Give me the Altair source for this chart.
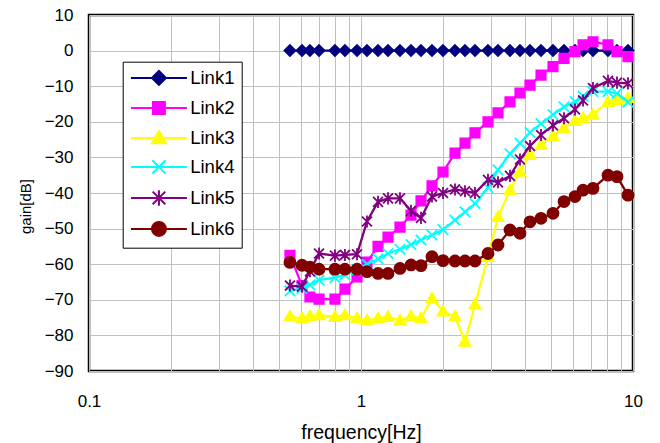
import altair as alt
import pandas as pd

# ---------------- data ----------------
freq = [0.548, 0.607, 0.649, 0.701, 0.802, 0.873, 0.967, 1.052, 1.155, 1.257,
        1.391, 1.527, 1.662, 1.824, 2.002, 2.216, 2.412, 2.625, 2.930, 3.189,
        3.530, 3.842, 4.181, 4.590, 5.080, 5.577, 6.121, 6.551, 7.127, 8.093,
        8.733, 9.585]

series_names = ["Link1", "Link2", "Link3", "Link4", "Link5", "Link6"]

link1 = [0, 0, 0, 0, 0, 0, 0, 0, 0, 0, 0, 0, 0, 0, 0, 0,
         0, 0, 0, 0, 0, 0, 0, 0, 0, 0, 0, 0, 0, 0, 0, 0]
link2 = [-57.5, -66, -69.2, -69.8, -69.8, -67, -63.6, -59.4, -55, -52.4,
         -49.6, -46.2, -42.2, -38, -34.1, -28.8, -26, -23.1, -20, -17.5,
         -14.4, -11.9, -9.7, -6.9, -4.5, -2.2, -0.3, 1.6, 2.5, 1.6, -0.3, -1.7]
link3 = [-74.7, -75.2, -74.6, -74.3, -74.8, -74.3, -75.2, -75.8, -75.2, -74.8,
         -75.8, -74.6, -75.2, -69.6, -73.3, -74.7, -81.8, -71.3, -58, -46.7,
         -39.2, -34, -29.3, -26.5, -24, -21.7, -19.8, -18.9, -18, -14.4, -13.9, -13.3]
link4 = [-67.5, -66.8, -65.8, -64.5, -63.8, -63, -61.5, -60, -58.5, -57,
         -55.8, -54.5, -53.2, -51.8, -50.3, -47.6, -45.3, -43, -38.5, -33.5,
         -29, -26, -23, -20.5, -18, -15.8, -14.3, -12.8, -11.5, -11.5, -12, -14.5]
link5 = [-66, -66.3, -62, -57, -57.6, -57.4, -57.2, -48, -42.5, -41.5,
         -41.5, -45, -47, -41, -40, -39, -39.5, -40, -36.3, -37,
         -35.2, -30.6, -26.8, -23.7, -21, -19, -16.5, -14, -10.5, -8.5, -9, -9.2]
link6 = [-59.5, -60.3, -60.8, -61.4, -61.4, -61.4, -61.4, -62.1, -62.6, -62.6,
         -61.2, -60.2, -60.4, -57.9, -59, -59.1, -59.1, -59.1, -57, -54.6,
         -50.4, -51.3, -48.1, -47.1, -45.7, -42.4, -41, -39.2, -38.7, -35, -35.4, -40.6]

x_ticks = [0.1, 0.2, 0.3, 0.4, 0.5, 0.6, 0.7, 0.8, 0.9, 1,
           2, 3, 4, 5, 6, 7, 8, 9, 10]
y_ticks = [-90, -80, -70, -60, -50, -40, -30, -20, -10, 0, 10]

# ---------------- styles ----------------
colors = ["#000080", "#FF00FF", "#FFFF00", "#00FFFF", "#800080", "#800000"]
markers = [
    "M0,-1L1,0L0,1L-1,0Z",                                  # diamond
    "M-0.85,-0.85L0.85,-0.85L0.85,0.85L-0.85,0.85Z",        # square
    "M0,-1L1,0.75L-1,0.75Z",                                # triangle
    "M-0.95,-0.95L0.95,0.95M-0.95,0.95L0.95,-0.95",         # x
    "M-0.9,-0.9L0.9,0.9M-0.9,0.9L0.9,-0.9M0,-1.1L0,1.1",    # asterisk
    "M1,0A1,1,0,1,1,-1,0A1,1,0,1,1,1,0Z",                   # circle
]
legend_paths = ["M-4,0L4,0" + m for m in markers]

rows = []
for name, vals in zip(series_names, [link1, link2, link3, link4, link5, link6]):
    for i, (f, v) in enumerate(zip(freq, vals)):
        rows.append({"series": name, "f": f, "gain": v, "idx": i})
df = pd.DataFrame(rows)

FONT = "Liberation Sans"

x_enc = alt.X(
    "f:Q",
    scale=alt.Scale(type="log", domain=[0.1, 10], nice=False),
    axis=alt.Axis(
        values=x_ticks,
        labelExpr="datum.value == 0.1 ? '0.1' : datum.value == 1 ? '1' : datum.value == 10 ? '10' : ''",
        grid=True, ticks=False, domain=False,
        labelFlush=False, labelOverlap=False, labelPadding=22,
        labelFont=FONT, labelFontSize=17, labelColor="black",
        title="frequency[Hz]", titleFont=FONT, titleFontSize=19.5,
        titleFontWeight="normal", titleColor="black",
        titleBaseline="alphabetic", titleY=67,
    ),
)
y_enc = alt.Y(
    "gain:Q",
    scale=alt.Scale(domain=[-90, 10], nice=False, zero=False),
    axis=alt.Axis(
        values=y_ticks, grid=True, ticks=False, domain=False,
        labelPadding=16, labelFont=FONT, labelFontSize=17, labelColor="black",
        title="gain[dB]", titleFont=FONT, titleFontSize=15,
        titleFontWeight="normal", titleColor="black",
        titleAngle=270, titleBaseline="middle", titleAlign="center",
        titleX=-64, titleY=191,
    ),
)

base = alt.Chart(df)

layers = []
for k, name in enumerate(series_names):
    sub = base.transform_filter(alt.datum.series == name)
    layers.append(
        sub.mark_line(strokeWidth=2.3, color=colors[k]).encode(
            x=x_enc, y=y_enc, order="idx:Q"
        )
    )
    layers.append(
        sub.mark_point(
            filled=True, opacity=1, size=121, strokeWidth=1.8,
            shape=markers[k], fill=colors[k], stroke=colors[k],
        ).encode(x=x_enc, y=y_enc)
    )

leg = alt.Legend(
    orient="none", legendX=33.7, legendY=46.7, title=None,
    labelFont=FONT, labelFontSize=18.5, labelColor="black", labelLimit=300,
    symbolSize=196, symbolStrokeWidth=2, symbolOffset=20, labelOffset=22,
    rowPadding=8, padding=7, strokeColor="black", fillColor="white",
    direction="vertical",
)
legend_layer = base.transform_filter("false").mark_point(
    filled=True, opacity=1, size=196, strokeWidth=2
).encode(
    x=x_enc, y=y_enc,
    shape=alt.Shape("series:N", scale=alt.Scale(domain=series_names, range=legend_paths), legend=leg),
    fill=alt.Fill("series:N", scale=alt.Scale(domain=series_names, range=colors), legend=leg),
    stroke=alt.Stroke("series:N", scale=alt.Scale(domain=series_names, range=colors), legend=leg),
)
layers.append(legend_layer)

chart = alt.layer(*layers).properties(
    width=544, height=356,
    padding={"left": 89, "top": 15, "right": 27, "bottom": 72},
    autosize=alt.AutoSizeParams(type="none"),
    background="white",
).configure_view(
    stroke="black", strokeWidth=2.5
).configure_axis(
    gridColor="#C0C0C0", gridWidth=1, gridOpacity=1
)

chart.save("out.html", embed_options={"renderer": "svg", "actions": False})
